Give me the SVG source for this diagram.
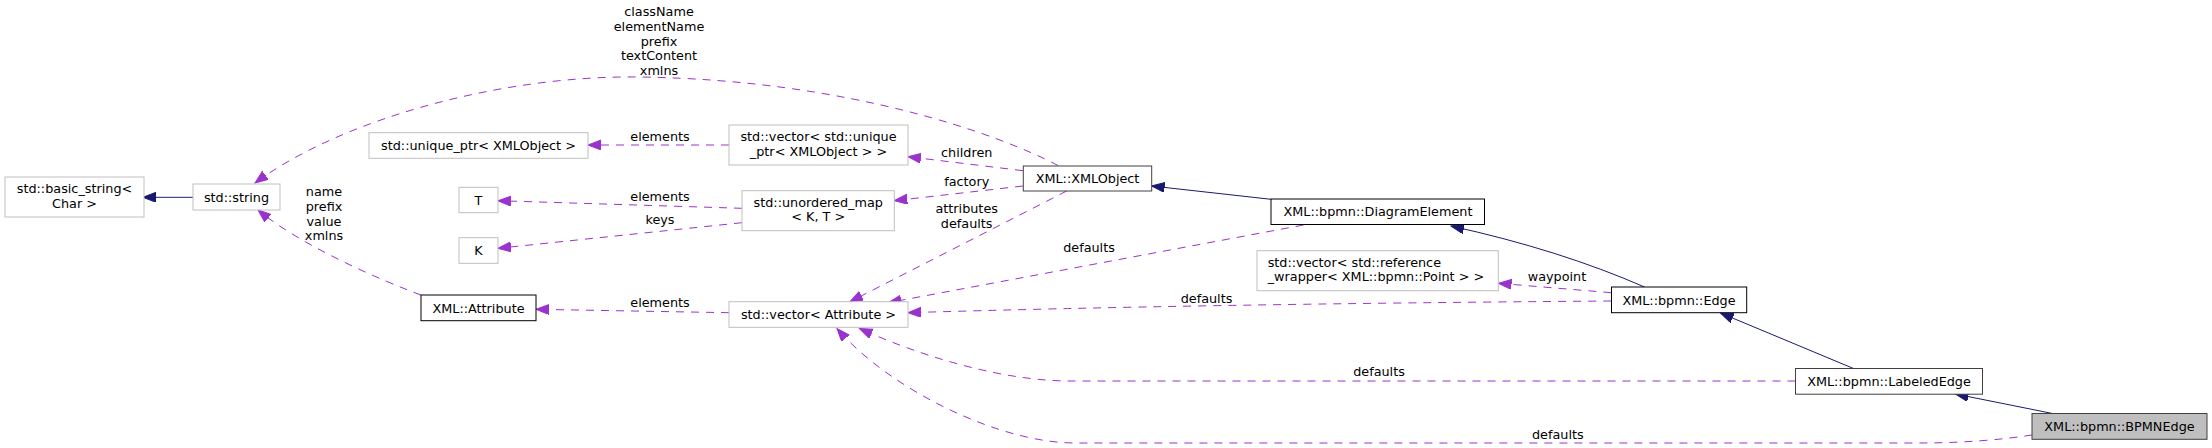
<svg xmlns="http://www.w3.org/2000/svg" width="2212" height="448" viewBox="0 0 2212 448">
<style>
text{font-family:"DejaVu Sans","Liberation Sans",sans-serif;font-size:12.8px;fill:#000;text-anchor:middle}
.n rect{fill:#fff;stroke:#bfbfbf;stroke-width:1}
.d rect{stroke:#000}
.g rect{stroke:#404040}
.m rect{fill:#bfbfbf;stroke:#404040}
.e{fill:none;stroke:#9a32cd;stroke-width:1;stroke-dasharray:8,7;marker-end:url(#ap)}
.i{fill:none;stroke:#191970;stroke-width:1;marker-end:url(#an)}
</style>
<defs>
<marker id="ap" markerWidth="15" markerHeight="12" refX="13" refY="5" orient="auto" markerUnits="userSpaceOnUse"><path d="M0,0 L13,5 L0,10 z" fill="#9a32cd" stroke="#9a32cd" stroke-dasharray="none"/></marker>
<marker id="an" markerWidth="15" markerHeight="12" refX="13" refY="5" orient="auto" markerUnits="userSpaceOnUse"><path d="M0,0 L13,5 L0,10 z" fill="#191970" stroke="#191970"/></marker>
</defs>
<rect width="2212" height="448" fill="#fff"/>
<g id="connectors">
<path class="i" d="M193,197.3 L143,197.3"/>
<path class="e" d="M1058,165.5 C1000,135 850,80 640,77 C500,75 340,120 255,183"/>
<path class="e" d="M421,295 C380,280 300,245 258,210"/>
<path class="e" d="M729,145 L588,145"/>
<path class="e" d="M742,208.3 L498,200.7"/>
<path class="e" d="M742,222.7 L498,248.3"/>
<path class="e" d="M1023,170.7 L908,156.7"/>
<path class="e" d="M1023,186 L894.3,200.7"/>
<path class="e" d="M1066.7,191 L850,301.7"/>
<path class="e" d="M1303.5,225 L888.3,302.7"/>
<path class="e" d="M1611.5,301 Q1200,304 908,312.7"/>
<path class="e" d="M1611.3,292.7 L1498.5,283.3"/>
<path class="e" d="M729,312.7 L536,309.3"/>
<path class="i" d="M1271,199.3 L1151.7,186"/>
<path class="i" d="M1644.5,287 Q1560,250 1451,226"/>
<path class="i" d="M1853.5,368.5 L1720.5,313"/>
<path class="i" d="M2052.5,413.5 L1955.5,394"/>
<path class="e" d="M1795.5,381 L1070,381 C1005,381 925,358 859.5,328.5"/>
<path class="e" d="M2032,435 C2000,440 1960,443 1920,443 L1075,443 C1000,443 890,390 837,328.5"/>
<text x="659" y="16.2">className</text>
<text x="659" y="30.95">elementName</text>
<text x="659" y="45.7">prefix</text>
<text x="659" y="60.45">textContent</text>
<text x="659" y="75.2">xmlns</text>
<text x="324" y="196.2">name</text>
<text x="324" y="210.95">prefix</text>
<text x="324" y="225.7">value</text>
<text x="324" y="240.45">xmlns</text>
<text x="660" y="140.5">elements</text>
<text x="660" y="201.2">elements</text>
<text x="660" y="223.8">keys</text>
<text x="660" y="306.8">elements</text>
<text x="966.7" y="157.2">children</text>
<text x="966.7" y="186.2">factory</text>
<text x="966.7" y="213.2">attributes</text>
<text x="966.7" y="227.8">defaults</text>
<text x="1089" y="251.8">defaults</text>
<text x="1206.5" y="302.8">defaults</text>
<text x="1557" y="281.2">waypoint</text>
<text x="1379" y="376.2">defaults</text>
<text x="1557.8" y="438.8">defaults</text>
</g>
<g id="basic_string" class="n"><rect x="5" y="177" width="139" height="40"/><text x="74.5" y="192.8">std::basic_string&lt;</text><text x="74.5" y="207.8">Char &gt;</text></g>
<g id="string" class="n"><rect x="193" y="184" width="87" height="26"/><text x="236.5" y="201.5">std::string</text></g>
<g id="unique_ptr" class="n"><rect x="369" y="132.7" width="219" height="25.6"/><text x="478.5" y="150">std::unique_ptr&lt; XMLObject &gt;</text></g>
<g id="vector_unique_ptr" class="n"><rect x="729" y="125" width="179" height="40"/><text x="818.5" y="140.5">std::vector&lt; std::unique</text><text x="818.5" y="156.2">_ptr&lt; XMLObject &gt; &gt;</text></g>
<g id="T" class="n"><rect x="459" y="187.3" width="39" height="25.4"/><text x="478.5" y="204.5">T</text></g>
<g id="K" class="n"><rect x="459" y="237.7" width="39" height="25.6"/><text x="478.5" y="255">K</text></g>
<g id="unordered_map" class="n"><rect x="742" y="190.7" width="152.3" height="40"/><text x="818.2" y="207.2">std::unordered_map</text><text x="818.2" y="221.2">&lt; K, T &gt;</text></g>
<g id="XMLObject" class="n g"><rect x="1023.3" y="166" width="128.4" height="25"/><text x="1087.5" y="183">XML::XMLObject</text></g>
<g id="Attribute" class="n d"><rect x="421" y="295" width="115" height="25.7"/><text x="478.5" y="312.5">XML::Attribute</text></g>
<g id="vector_Attribute" class="n"><rect x="729" y="301.7" width="179" height="25.6"/><text x="818.5" y="319">std::vector&lt; Attribute &gt;</text></g>
<g id="DiagramElement" class="n d"><rect x="1271" y="199" width="213.5" height="25.5"/><text x="1378" y="216.2">XML::bpmn::DiagramElement</text></g>
<g id="vector_reference_wrapper" class="n"><rect x="1257" y="250.7" width="241.3" height="40"/><text x="1267.7" y="266.8" style="text-anchor:start">std::vector&lt; std::reference</text><text x="1267.7" y="281.2" style="text-anchor:start">_wrapper&lt; XML::bpmn::Point &gt; &gt;</text></g>
<g id="Edge" class="n d"><rect x="1611.5" y="287" width="135.2" height="25.7"/><text x="1679" y="304.5">XML::bpmn::Edge</text></g>
<g id="LabeledEdge" class="n g"><rect x="1795.5" y="368.5" width="187" height="25.7"/><text x="1889" y="385.8">XML::bpmn::LabeledEdge</text></g>
<g id="BPMNEdge" class="n m"><rect x="2032" y="413.5" width="175" height="25.8"/><text x="2119.5" y="431">XML::bpmn::BPMNEdge</text></g>
</svg>
